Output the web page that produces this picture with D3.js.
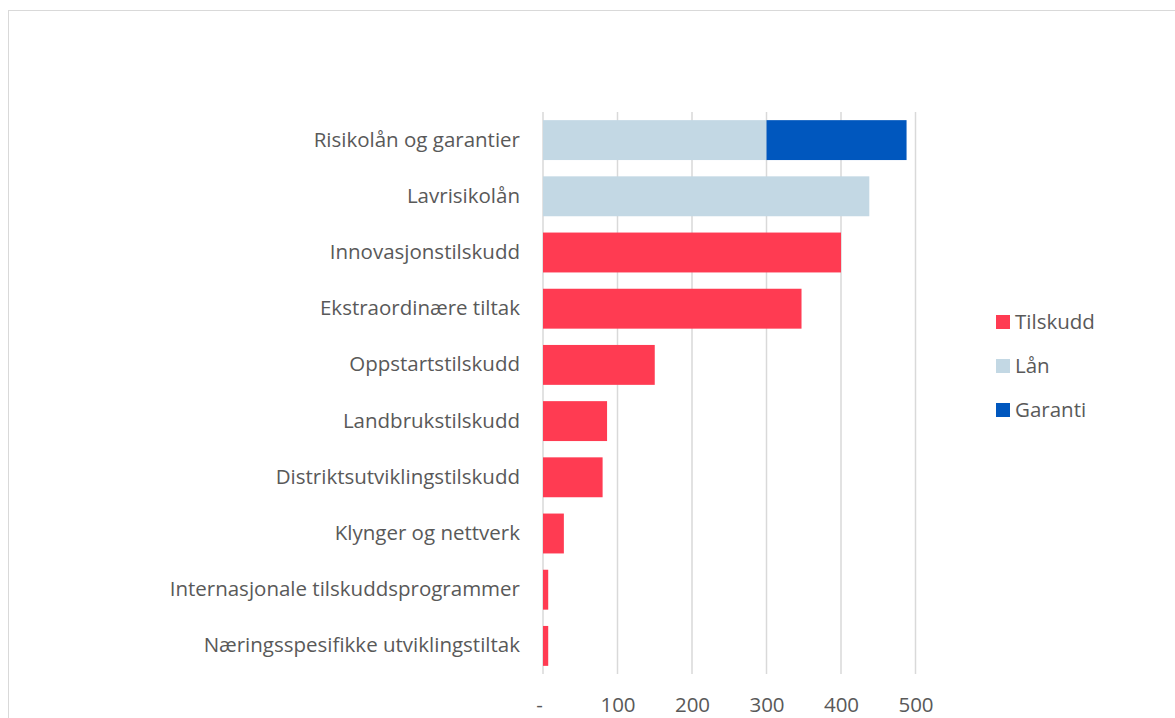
<!DOCTYPE html>
<meta charset="utf-8">
<script src="https://d3js.org/d3.v7.min.js"></script>
<style>
  body { margin: 0; background: #fff; }
  text { font-family: "Open Sans", sans-serif; fill: #595959; }
</style>
<div id="chart"></div>
<script>

// categories, top to bottom
var categories = [
  "Risikolån og garantier",
  "Lavrisikolån",
  "Innovasjonstilskudd",
  "Ekstraordinære tiltak",
  "Oppstartstilskudd",
  "Landbrukstilskudd",
  "Distriktsutviklingstilskudd",
  "Klynger og nettverk",
  "Internasjonale tilskuddsprogrammer",
  "Næringsspesifikke utviklingstiltak"
];

var seriesNames = ["Tilskudd", "Lån", "Garanti"];
var tilskudd = [0, 0, 400, 347, 150, 86, 80, 28, 7, 7];
var laan     = [300, 438, 0, 0, 0, 0, 0, 0, 0, 0];
var garanti  = [188, 0, 0, 0, 0, 0, 0, 0, 0, 0];

var tickValues = [0, 100, 200, 300, 400, 500];
var colors = ["#FF3B52", "#C3D8E4", "#0057BE"];

var W = 1175, H = 718;
var margin = {top: 112, left: 543};
var plotBottom = 674;

var svg = d3.select("#chart")
  .append("svg")
    .attr("width", W)
    .attr("height", H);

// chart border
svg.append("rect")
  .attr("x", 8.5).attr("y", 10.5)
  .attr("width", W).attr("height", H)
  .attr("fill", "none")
  .attr("stroke", "#D9D9D9");

var x = d3.scaleLinear()
  .domain([0, 500])
  .range([margin.left, 915.5]);

var y = d3.scaleBand()
  .domain(categories)
  .range([margin.top, plotBottom])
  .paddingInner(0.29)
  .paddingOuter(0.145);

// gridlines
svg.append("g")
  .selectAll("line")
  .data(tickValues)
  .join("line")
    .attr("x1", function(d) { return x(d); })
    .attr("x2", function(d) { return x(d); })
    .attr("y1", margin.top)
    .attr("y2", plotBottom)
    .attr("stroke", "#D9D9D9")
    .attr("stroke-width", 1.5);

// stacked bars
var rows = categories.map(function(c, i) {
  return {cat: c, Tilskudd: tilskudd[i], "Lån": laan[i], Garanti: garanti[i]};
});
var stack = d3.stack().keys(seriesNames)(rows);

svg.append("g")
  .selectAll("g")
  .data(stack)
  .join("g")
    .attr("fill", function(d, i) { return colors[i]; })
  .selectAll("rect")
  .data(function(d) { return d; })
  .join("rect")
    .attr("x", function(d) { return x(d[0]); })
    .attr("y", function(d) { return y(d.data.cat); })
    .attr("width", function(d) { return x(d[1]) - x(d[0]); })
    .attr("height", y.bandwidth());

// category labels
var yAxis = svg.append("g")
  .attr("transform", "translate(" + (margin.left - 23) + ",0)")
  .call(d3.axisLeft(y).tickSize(0).tickPadding(0));
yAxis.select(".domain").remove();
yAxis.selectAll("text")
  .style("font-size", "20.5px")
  .attr("fill", "#595959");

// x axis labels
var xAxis = svg.append("g")
  .attr("transform", "translate(0,697)")
  .call(d3.axisBottom(x).tickValues(tickValues).tickSize(0).tickPadding(0)
    .tickFormat(function(d) { return d === 0 ? "-" : d; }));
xAxis.select(".domain").remove();
xAxis.selectAll("text")
  .style("font-size", "20.5px")
  .attr("fill", "#595959")
  .attr("dx", function(d) { return d === 0 ? -4 : 0; });

// legend
var legend = svg.append("g")
  .selectAll("g")
  .data(seriesNames)
  .join("g")
    .attr("transform", function(d, i) { return "translate(996," + (315 + i * 44) + ")"; });
legend.append("rect")
  .attr("width", 14).attr("height", 14)
  .attr("fill", function(d, i) { return colors[i]; });
legend.append("text")
  .attr("x", 19).attr("y", 7)
  .attr("dy", "0.35em")
  .style("font-size", "20.5px")
  .text(function(d) { return d; });

</script>
